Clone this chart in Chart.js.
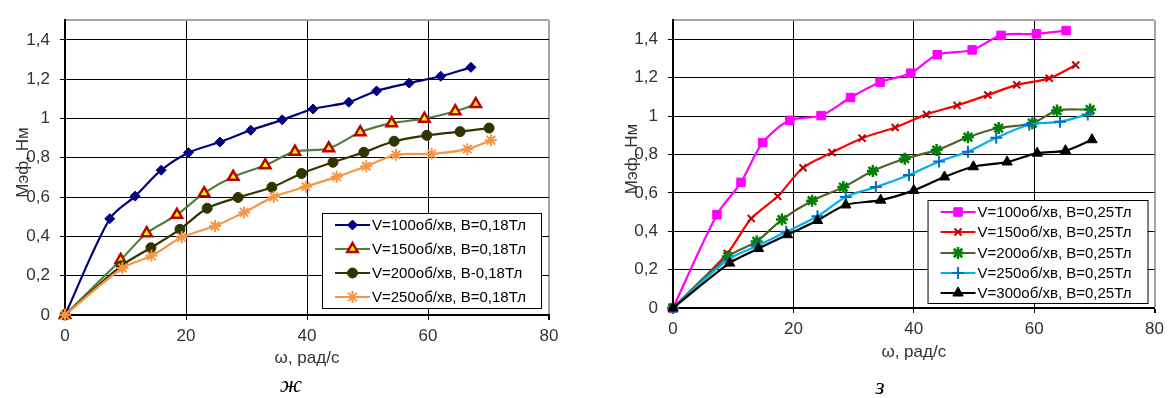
<!DOCTYPE html>
<html>
<head>
<meta charset="utf-8">
<script src="https://cdn.jsdelivr.net/npm/chart.js@4/dist/chart.umd.min.js"></script>
<style>
  html, body { margin: 0; padding: 0; background: #fff; }
  .box { position: absolute; top: 0; width: 585px; height: 398px; }
</style>
</head>
<body>
<div class="box" style="left:0"><canvas id="chartZh" width="585" height="398"></canvas></div>
<div class="box" style="left:585px"><canvas id="chartZ" width="585" height="398"></canvas></div>
<script>
// axis ticks
const xTicks = [0, 20, 40, 60, 80];
const yTicks = [0, 0.2, 0.4, 0.6, 0.8, 1, 1.2, 1.4];
const yMax = 1.5;

// chart "ж" (B = 0,18 Тл)
const zhLabels = ['V=100об/хв, B=0,18Тл', 'V=150об/хв, B=0,18Тл', 'V=200об/хв, B-0,18Тл', 'V=250об/хв, B=0,18Тл'];
const zhW100 = [0, 7.4, 11.6, 15.9, 20.4, 25.6, 30.7, 35.9, 41.0, 46.9, 51.5, 56.9, 62.1, 67.1];
const zhM100 = [0, 0.49, 0.605, 0.737, 0.826, 0.88, 0.94, 0.993, 1.048, 1.083, 1.14, 1.18, 1.215, 1.26];
const zhW150 = [0, 9.2, 13.5, 18.5, 23.0, 27.8, 33.1, 38.0, 43.6, 48.8, 54.0, 59.4, 64.5, 67.9];
const zhM150 = [0, 0.28, 0.416, 0.51, 0.62, 0.703, 0.762, 0.831, 0.848, 0.93, 0.976, 0.999, 1.037, 1.073];
const zhW200 = [0, 9.3, 14.2, 19.0, 23.5, 28.6, 34.2, 39.1, 44.3, 49.4, 54.4, 59.8, 65.3, 70.1];
const zhM200 = [0, 0.25, 0.342, 0.436, 0.543, 0.598, 0.65, 0.72, 0.777, 0.828, 0.884, 0.914, 0.933, 0.951];
const zhW250 = [0, 9.5, 14.3, 19.3, 24.8, 29.6, 34.5, 39.8, 44.9, 49.8, 54.7, 60.6, 66.5, 70.4];
const zhM250 = [0, 0.239, 0.301, 0.395, 0.453, 0.522, 0.601, 0.653, 0.703, 0.757, 0.815, 0.82, 0.844, 0.889];

// chart "з" (B = 0,25 Тл)
const zLabels = ['V=100об/хв, B=0,25Тл', 'V=150об/хв, B=0,25Тл', 'V=200об/хв, B=0,25Тл', 'V=250об/хв, B=0,25Тл', 'V=300об/хв, B=0,25Тл'];
const zW100 = [0, 7.3, 11.3, 14.9, 19.4, 24.6, 29.5, 34.4, 39.5, 43.9, 49.7, 54.5, 60.4, 65.3];
const zM100 = [0, 0.486, 0.655, 0.862, 0.978, 1.003, 1.097, 1.177, 1.224, 1.32, 1.345, 1.421, 1.429, 1.446];
const zW150 = [0, 9.0, 13.0, 17.4, 21.6, 26.4, 31.4, 36.9, 42.1, 47.2, 52.3, 57.1, 62.5, 66.9];
const zM150 = [0, 0.284, 0.466, 0.582, 0.731, 0.81, 0.885, 0.941, 1.009, 1.056, 1.11, 1.163, 1.197, 1.266];
const zW200 = [0, 9.1, 13.9, 18.1, 23.1, 28.3, 33.2, 38.5, 43.8, 49.0, 54.1, 59.7, 63.8, 69.3];
const zM200 = [0, 0.268, 0.347, 0.461, 0.559, 0.63, 0.714, 0.778, 0.823, 0.89, 0.938, 0.963, 1.029, 1.034];
const zW250 = [0, 9.1, 13.9, 18.8, 24.0, 28.7, 33.7, 39.2, 44.2, 49.0, 53.7, 59.2, 64.3, 68.9];
const zM250 = [0, 0.251, 0.322, 0.397, 0.478, 0.579, 0.63, 0.693, 0.764, 0.815, 0.887, 0.955, 0.971, 1.009];
const zW300 = [0, 9.4, 14.2, 19.0, 24.0, 28.7, 34.5, 40.0, 45.1, 49.9, 55.5, 60.5, 65.2, 69.6];
const zM300 = [0, 0.234, 0.31, 0.382, 0.456, 0.537, 0.562, 0.613, 0.683, 0.736, 0.761, 0.807, 0.82, 0.877];

const FONT = '"Liberation Sans", Arial, sans-serif';
const fmt = v => String(v).replace('.', ',');
const pts = (xs, ys) => xs.map((x, i) => ({ x: x, y: ys[i] }));

function series(label, xs, ys, line, style, radius, fill, border, bw) {
  return {
    label: label,
    data: pts(xs, ys),
    showLine: true,
    borderColor: line,
    borderWidth: 2.2,
    tension: 0.3,
    pointStyle: style,
    pointRadius: radius,
    pointHoverRadius: radius,
    pointBackgroundColor: fill,
    pointBorderColor: border,
    pointBorderWidth: bw,
    clip: false
  };
}

// legend drawn inside the plot area, like the original
const legendBox = {
  id: 'legendBox',
  afterDraw(chart, args, o) {
    const ctx = chart.ctx, a = chart.chartArea;
    const x = a.right - o.right - o.width, y = a.bottom - o.bottom - o.height;
    ctx.save();
    ctx.fillStyle = '#fff';
    ctx.fillRect(x, y, o.width, o.height);
    ctx.strokeStyle = '#000';
    ctx.lineWidth = 1;
    ctx.strokeRect(x + 0.5, y + 0.5, o.width, o.height);
    ctx.font = '15px ' + FONT;
    ctx.textBaseline = 'middle';
    chart.data.datasets.forEach((ds, i) => {
      const cy = Math.round(y + o.first + i * o.step);
      ctx.strokeStyle = ds.borderColor;
      ctx.lineWidth = ds.borderWidth;
      ctx.beginPath();
      ctx.moveTo(x + 13, cy);
      ctx.lineTo(x + 48, cy);
      ctx.stroke();
      ctx.fillStyle = ds.pointBackgroundColor;
      ctx.strokeStyle = ds.pointBorderColor;
      ctx.lineWidth = ds.pointBorderWidth;
      Chart.helpers.drawPoint(ctx, { pointStyle: ds.pointStyle, radius: ds.pointRadius, rotation: 0, borderWidth: ds.pointBorderWidth }, x + 30.5, cy);
      ctx.fillStyle = '#000';
      ctx.fillText(ds.label, x + 50, cy + 1);
    });
    ctx.restore();
  }
};

// axis titles and the figure letter under the chart
const titles = {
  id: 'titles',
  afterDraw(chart, args, o) {
    const ctx = chart.ctx, a = chart.chartArea;
    ctx.save();
    ctx.fillStyle = '#333';
    ctx.font = '17px ' + FONT;
    ctx.textAlign = 'center';
    ctx.textBaseline = 'middle';
    ctx.fillText('ω, рад/с', (a.left + a.right) / 2, o.xTitleY);
    ctx.save();
    ctx.translate(a.left - o.yTitleDx, (a.top + a.bottom) / 2 - 5);
    ctx.rotate(-Math.PI / 2);
    ctx.fillText('Мэф, Нм', 0, 0);
    ctx.restore();
    ctx.fillStyle = '#000';
    ctx.font = 'italic 24px "Liberation Serif", "DejaVu Serif", serif';
    ctx.fillText(o.caption, o.capX, o.capY);
    ctx.restore();
  }
};

function makeChart(id, datasets, lay) {
  new Chart(document.getElementById(id), {
    type: 'scatter',
    data: { datasets: datasets.map((d, i) => Object.assign(d, { order: datasets.length - i })) },
    options: {
      responsive: false,
      animation: false,
      events: [],
      layout: { padding: { left: 0, top: 10, right: lay.right, bottom: 0 } },
      scales: {
        x: {
          type: 'linear',
          min: 0,
          max: 80,
          afterBuildTicks: s => { s.ticks = xTicks.map(v => ({ value: v })); },
          afterFit: s => { s.height = lay.xH; },
          ticks: { color: '#333', font: { family: FONT, size: 17 }, padding: 6, maxRotation: 0, callback: v => fmt(v) },
          grid: {
            color: c => (c.tick && c.tick.value === 80) ? '#a6a6a6' : '#000',
            lineWidth: c => (c.tick && c.tick.value === 80) ? 2 : 1,
            tickColor: '#000',
            tickLength: 5
          },
          border: { color: '#000', width: 2 }
        },
        y: {
          type: 'linear',
          min: 0,
          max: yMax,
          afterBuildTicks: s => { s.ticks = yTicks.concat([yMax]).map(v => ({ value: v })); },
          afterFit: s => { s.width = lay.yW; },
          ticks: { color: '#333', font: { family: FONT, size: 17 }, padding: 10, callback: v => v === yMax ? '' : fmt(v) },
          grid: {
            color: c => (c.tick && c.tick.value === yMax) ? '#a6a6a6' : '#000',
            lineWidth: c => (c.tick && c.tick.value === yMax) ? 2 : 1,
            tickColor: c => (c.tick && c.tick.value === yMax) ? 'rgba(0,0,0,0)' : '#000',
            tickLength: 5
          },
          border: { color: '#000', width: 2 }
        }
      },
      plugins: {
        legend: { display: false },
        tooltip: { enabled: false },
        legendBox: lay.legend,
        titles: lay.titles
      }
    },
    plugins: [legendBox, titles]
  });
}

makeChart('chartZh', [
  series(zhLabels[0], zhW100, zhM100, '#000080', 'rectRot', 5, '#000080', '#000080', 1),
  series(zhLabels[1], zhW150, zhM150, '#4f7f3a', 'triangle', 6, '#ffff00', '#c00000', 2.5),
  series(zhLabels[2], zhW200, zhM200, '#333300', 'circle', 5, '#333300', '#333300', 1),
  series(zhLabels[3], zhW250, zhM250, '#f79646', 'star', 6, '#f79646', '#f79646', 2)
], {
  right: 36, xH: 83, yW: 65,
  legend: { width: 219, height: 95, right: 8, bottom: 7, first: 12, step: 24 },
  titles: { xTitleY: 358, yTitleDx: 42, caption: 'ж', capX: 291, capY: 386 }
});

makeChart('chartZ', [
  series(zLabels[0], zW100, zM100, '#ff00ff', 'rect', 6, '#ff00ff', '#ff00ff', 1),
  series(zLabels[1], zW150, zM150, '#ff0000', 'crossRot', 5, '#c00000', '#c00000', 2),
  series(zLabels[2], zW200, zM200, '#4f6228', 'star', 6, '#008000', '#008000', 2.5),
  series(zLabels[3], zW250, zM250, '#00b0f0', 'cross', 6, '#0070c0', '#0070c0', 2),
  series(zLabels[4], zW300, zM300, '#000000', 'triangle', 6, '#000000', '#000000', 1)
], {
  right: 12, xH: 90, yW: 88,
  legend: { width: 220, height: 103, right: 7, bottom: 5, first: 11.7, step: 20.4 },
  titles: { xTitleY: 352, yTitleDx: 41, caption: 'з', capX: 295, capY: 388 }
});
</script>
</body>
</html>
